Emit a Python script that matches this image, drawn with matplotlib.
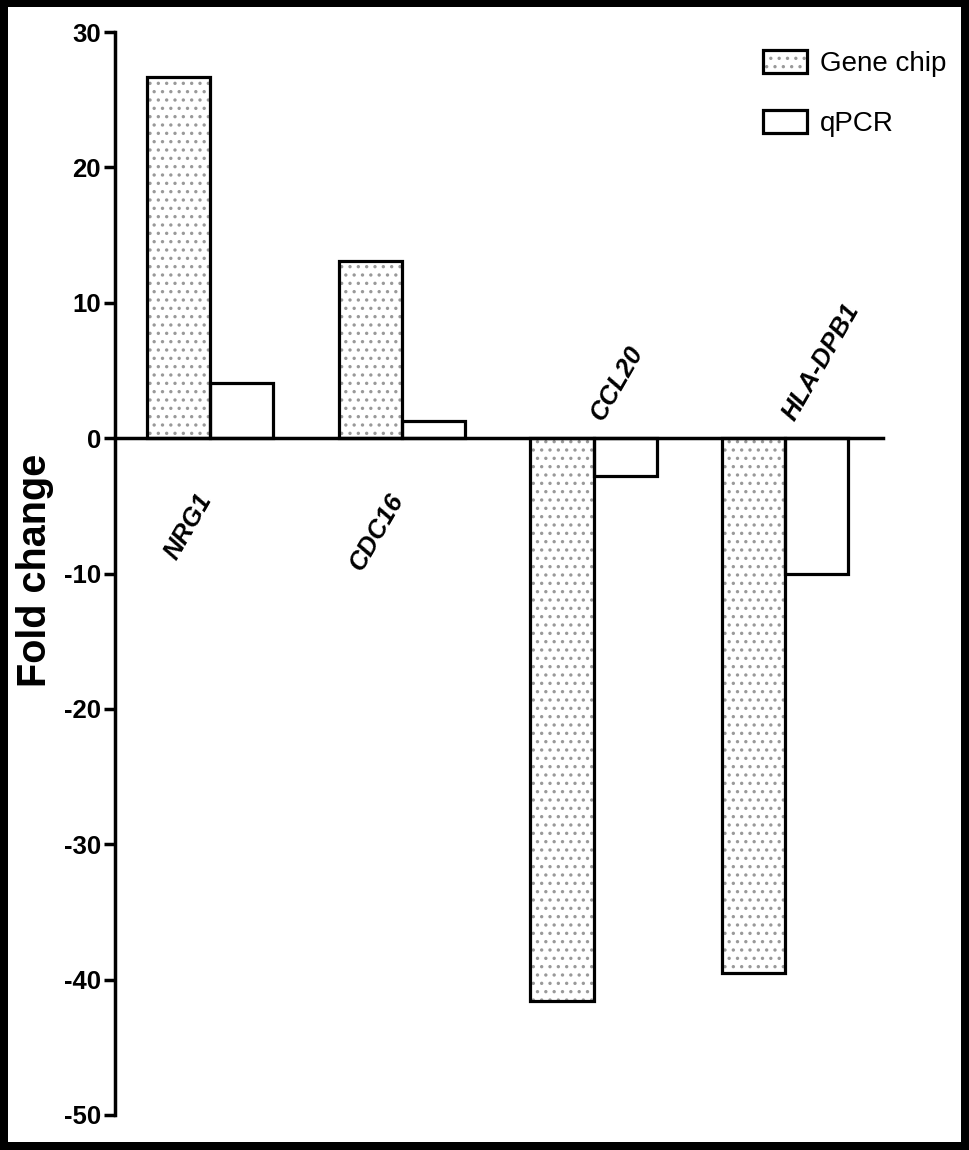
import numpy as np
import matplotlib.pyplot as plt
from matplotlib.patches import Patch, Rectangle
from matplotlib.legend_handler import HandlerTuple

# data
genes = ["NRG1", "CDC16", "CCL20", "HLA-DPB1"]
gene_chip = [26.7, 13.1, -41.6, -39.5]
qpcr = [4.05, 1.3, -2.8, -10.0]
y_ticks = [30, 20, 10, 0, -10, -20, -30, -40, -50]

plt.rcParams['font.family'] = ['Liberation Sans', 'DejaVu Sans']
plt.rcParams['axes.unicode_minus'] = False
plt.rcParams['hatch.linewidth'] = 1.2

W, H = 969, 1150
fig = plt.figure(figsize=(W / 100, H / 100), dpi=100, facecolor='black')
# white page inside the black frame
fig.patches.append(Rectangle((8 / W, 8 / H), 1 - 16 / W, 1 - 15 / H,
                             transform=fig.transFigure, facecolor='white',
                             edgecolor='none', zorder=-5))

ax = fig.add_axes([115 / W, 35 / H, (883 - 115) / W, (1115 - 32) / H])
ax.set_facecolor('white')
ax.set_zorder(2)

x = np.arange(len(genes))
w = 0.329
lw = 2.3

# Gene chip: grey dotted fill, then black outline on top
ax.bar(x - w / 2, gene_chip, w, color='white', edgecolor='#999999', hatch='..', linewidth=0)
ax.bar(x - w / 2, gene_chip, w, fill=False, edgecolor='black', linewidth=lw)
# qPCR: empty boxes
ax.bar(x + w / 2, qpcr, w, fill=False, edgecolor='black', linewidth=lw)

ax.set_xlim(-0.496, 3.51)
ax.set_ylim(-50, 30)
ax.set_yticks(y_ticks)

ax.spines['top'].set_visible(False)
ax.spines['right'].set_visible(False)
ax.spines['left'].set_linewidth(2.5)
ax.spines['bottom'].set_position(('data', 0))
ax.spines['bottom'].set_linewidth(2.5)
ax.tick_params(axis='x', bottom=False, labelbottom=False)
ax.tick_params(axis='y', length=8, width=2.5, direction='out', pad=2, labelsize=18.5)
for lab in ax.get_yticklabels():
    lab.set_fontweight('bold')

# gene names: below the axis for up-regulated, above for down-regulated
for xi, name, v in zip(x, genes, gene_chip):
    if v > 0:
        ax.annotate(name, (xi, 0), xytext=(-4, -57), textcoords='offset pixels',
                    rotation=60, rotation_mode='anchor', ha='right', va='center',
                    fontsize=18.5, fontweight='bold', fontstyle='italic')
    else:
        ax.annotate(name, (xi, 0), xytext=(3, 20), textcoords='offset pixels',
                    rotation=60, rotation_mode='anchor', ha='left', va='center',
                    fontsize=18.5, fontweight='bold', fontstyle='italic')

fig.text(35 / W, 1 - 570 / H, "Fold change", rotation=90, ha='center', va='center',
         fontsize=28.5, fontweight='bold')

h_chip = (Patch(facecolor='white', edgecolor='#999999', hatch='..', linewidth=0),
          Patch(fill=False, edgecolor='black', linewidth=lw))
h_qpcr = Patch(fill=False, edgecolor='black', linewidth=lw)
fig.legend([h_chip, h_qpcr], ["Gene chip", "qPCR"],
           handler_map={tuple: HandlerTuple(ndivide=1, pad=0)},
           loc='upper left', bbox_to_anchor=(763 / W, 1 - 50 / H),
           frameon=False, fontsize=20, handlelength=1.6, handleheight=0.9,
           handletextpad=0.45, labelspacing=1.18, borderpad=0, borderaxespad=0)

fig.savefig("out.png", dpi=100, facecolor=fig.get_facecolor())
